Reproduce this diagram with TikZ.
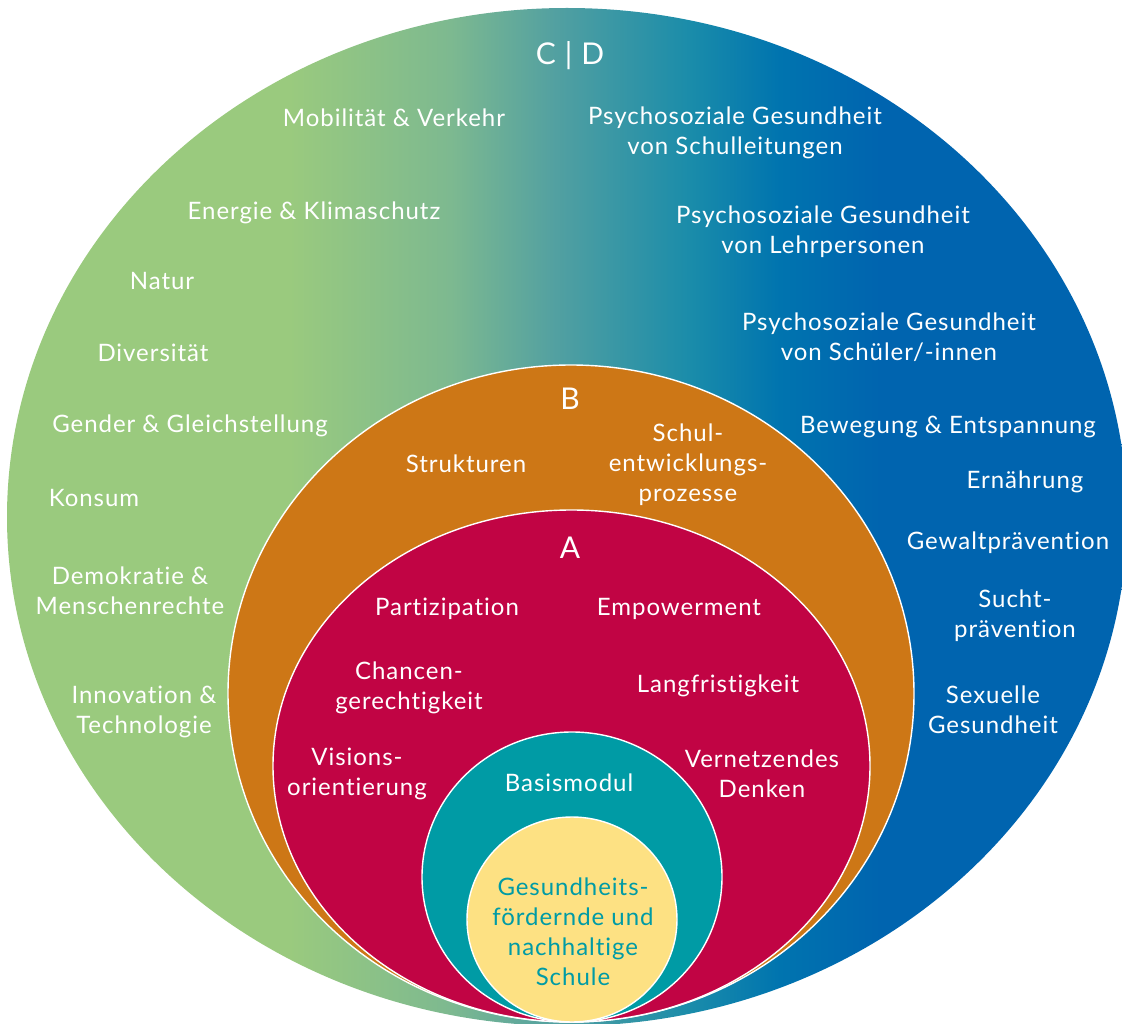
\documentclass[tikz,border=0pt]{standalone}
\usepackage{fontspec}
\setmainfont{Lato}[LetterSpace=4,Ligatures={NoCommon}]
\definecolor{cgreen}{HTML}{9ACA7E}
\definecolor{cgA}{HTML}{7DB990}
\definecolor{cgB}{HTML}{52A0A1}
\definecolor{cgC}{HTML}{1A8CAA}
\definecolor{cgD}{HTML}{0074AF}
\definecolor{cblue}{HTML}{0064AF}
\definecolor{corange}{HTML}{CD7716}
\definecolor{cred}{HTML}{C10444}
\definecolor{cteal}{HTML}{009BA5}
\definecolor{cyellow}{HTML}{FDE183}
\pgfdeclarehorizontalshading{outergrad}{100bp}{color(0bp)=(cgreen); color(37.6bp)=(cgreen); color(44.8bp)=(cgA); color(49.5bp)=(cgB); color(55.5bp)=(cgC); color(59.5bp)=(cgD); color(64bp)=(cblue); color(100bp)=(cblue)}
\tikzset{
  lbl/.style={text=white, align=center, inner sep=0pt, font=\fontsize{24}{30}\selectfont},
  big/.style={text=white, align=center, inner sep=0pt, font=\fontsize{30}{30}\selectfont},
  core/.style={text=cteal, align=center, inner sep=0pt, font=\fontsize{24}{30}\selectfont},
  ring/.style={draw=white, line width=1.4pt}
}
\begin{document}
\begin{tikzpicture}[x=1pt,y=-1pt]
\useasboundingbox (0,0) rectangle (1122,1024);
\clip (0,0) rectangle (1122,1024);
% outer gradient ellipse
\path[shading=outergrad] (567,517) ellipse [x radius=560pt, y radius=509pt];
% rings
\fill[corange] (571,693.5) ellipse [x radius=343pt, y radius=328.5pt];
\draw[ring] (571,693.5) ellipse [x radius=343pt, y radius=328.5pt];
\fill[cred] (571.5,766) ellipse [x radius=298.5pt, y radius=256pt];
\draw[ring] (571.5,766) ellipse [x radius=298.5pt, y radius=256pt];
\fill[cteal] (572,877) ellipse [x radius=150pt, y radius=145pt];
\draw[ring] (572,877) ellipse [x radius=150pt, y radius=145pt];
\fill[cyellow] (572,919.5) ellipse [x radius=105pt, y radius=102.5pt];
\draw[ring] (572,919.5) ellipse [x radius=105pt, y radius=102.5pt];
% C|D labels
\node[big] (cd) at (570,56) {C\hspace{0.3em}|\hspace{0.3em}D};
\node[lbl] (mob) at (394,118) {Mobilität \& Verkehr};
\node[lbl] (psl) at (735,133) {Psychosoziale Gesundheit\\von Schulleitungen};
\node[lbl] (ene) at (314,213) {Energie \& Klimaschutz};
\node[lbl] (psp) at (823,232) {Psychosoziale Gesundheit\\von Lehrpersonen};
\node[lbl] (nat) at (162,281) {Natur};
\node[lbl] (div) at (153,353) {Diversität};
\node[lbl] (pss) at (889,337) {Psychosoziale Gesundheit\\von Schüler/-innen};
\node[lbl] (gen) at (190,426) {Gender \& Gleichstellung};
\node[lbl] (bew) at (948,427) {Bewegung \& Entspannung};
\node[lbl] (kon) at (94,498) {Konsum};
\node[lbl] (ern) at (1025,482) {Ernährung};
\node[lbl] (dem) at (130,591) {Demokratie \&\\Menschenrechte};
\node[lbl] (gew) at (1008,543) {Gewaltprävention};
\node[lbl] (suc) at (1015,616) {Sucht-\\prävention};
\node[lbl] (inn) at (144,712) {Innovation \&\\Technologie};
\node[lbl] (sex) at (993,710) {Sexuelle\\Gesundheit};
% B labels
\node[big] (b) at (570,399) {B};
\node[lbl] (str) at (466,464) {Strukturen};
\node[lbl] (sch) at (688,465) {Schul-\\entwicklungs-\\prozesse};
% A labels
\node[big] (a) at (570,548) {A};
\node[lbl] (par) at (447,609) {Partizipation};
\node[lbl] (emp) at (679,609) {Empowerment};
\node[lbl] (cha) at (409,688) {Chancen-\\gerechtigkeit};
\node[lbl] (lan) at (718,686) {Langfristigkeit};
\node[lbl] (vis) at (357,774) {Visions-\\orientierung};
\node[lbl] (ver) at (762,774) {Vernetzendes\\Denken};
% core
\node[lbl] (bas) at (569,783) {Basismodul};
\node[core] (ges) at (573,932) {Gesundheits-\\fördernde und\\nachhaltige\\Schule};
\end{tikzpicture}
\end{document}
